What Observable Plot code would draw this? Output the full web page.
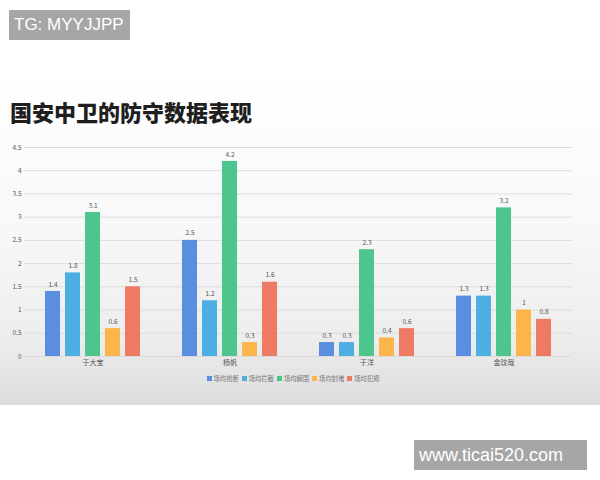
<!DOCTYPE html>
<html>
<head>
<meta charset="utf-8">
<script src="https://cdn.jsdelivr.net/npm/d3@7"></script>
<script src="https://cdn.jsdelivr.net/npm/@observablehq/plot@0.6"></script>
<style>
  html, body { margin: 0; padding: 0; background: #fff; }
  body { width: 600px; height: 480px; position: relative; overflow: hidden; font-family: "Noto Sans CJK SC", "Noto Sans", sans-serif; }
  #panel { position: absolute; left: 0; top: 75px; width: 600px; height: 330px;
    background: linear-gradient(to bottom, #ffffff 0%, #f8f8f8 45%, #ededed 80%, #dcdcdc 100%); }
  .wm { position: absolute; background: #a6a6a6; color: #fff; font-family: "Liberation Sans", Arial, sans-serif; }
  #wm1 { left: 9px; top: 10px; width: 121px; height: 30px; font-size: 17px; line-height: 30px; padding-left: 5px; box-sizing: border-box; }
  #wm2 { left: 414px; top: 440px; width: 173px; height: 30px; font-size: 18px; line-height: 30px; padding-left: 5px; box-sizing: border-box; }
  #title { position: absolute; left: 10px; top: 95px; font-size: 22px; font-weight: 900; color: #1e1e1e; white-space: nowrap; }
  #chart { position: absolute; left: 0; top: 140px; }
  #legend { position: absolute; left: 0; top: 374px; width: 586px; display: flex; justify-content: center; gap: 3px; font-size: 6.3px; color: #777; }
  #legend .item { display: flex; align-items: center; gap: 2px; }
  #legend .sw { width: 5px; height: 5px; display: inline-block; }
</style>
</head>
<body>
<div id="panel"></div>
<div id="wm1" class="wm">TG: MYYJJPP</div>
<div id="title">国安中卫的防守数据表现</div>
<div id="chart"></div>
<div id="legend"></div>
<div id="wm2" class="wm">www.ticai520.com</div>
<script>
const players = ["于大宝", "杨帆", "于洋", "金玟哉"];
const metrics = ["场均抢断", "场均拦截", "场均解围", "场均封堵", "场均犯规"];
const tackles = [1.4, 2.5, 0.3, 1.3];
const interceptions = [1.8, 1.2, 0.3, 1.3];
const clearances = [3.1, 4.2, 2.3, 3.2];
const blocks = [0.6, 0.3, 0.4, 1];
const fouls = [1.5, 1.6, 0.6, 0.8];
const yTicks = [0, 0.5, 1, 1.5, 2, 2.5, 3, 3.5, 4, 4.5];
const colors = ["#5a8ee0", "#4daee3", "#4dc58c", "#fbb54a", "#ee7a64"];

const series = [tackles, interceptions, clearances, blocks, fouls];
const data = [];
players.forEach((p, i) => {
  metrics.forEach((m, j) => data.push({player: p, metric: m, value: series[j][i]}));
});

const chart = Plot.plot({
  width: 600,
  height: 235,
  marginLeft: 22,
  marginRight: 27,
  marginTop: 7,
  marginBottom: 19,
  style: {background: "transparent", fontFamily: "'Noto Sans CJK SC', sans-serif"},
  fx: {domain: players, padding: 0, axis: "bottom", tickSize: 0, tickPadding: 4, label: null, fontSize: 7},
  x: {domain: metrics, paddingInner: 0.24, paddingOuter: 0.9, axis: null},
  y: {domain: [0, 4.5], ticks: yTicks, tickSize: 0, tickPadding: 3, label: null, tickFormat: d => String(d), grid: false},
  color: {domain: metrics, range: colors},
  marks: [
    Plot.ruleY(yTicks, {stroke: "#dcdcdc", strokeWidth: 1, facetAnchor: null}),
    Plot.barY(data, {fx: "player", x: "metric", y: "value", fill: "metric"}),
    Plot.text(data, {fx: "player", x: "metric", y: "value", text: d => String(d.value), dy: -7, fontSize: 6.5, fill: "#555"})
  ]
});
chart.querySelectorAll('g[aria-label="y-axis tick label"] text, g[aria-label="fx-axis tick label"] text').forEach(t => {
  t.setAttribute("fill", "#555");
});
chart.querySelectorAll('g[aria-label="y-axis tick label"]').forEach(g => g.setAttribute("font-size", "6.5"));
chart.querySelectorAll('g[aria-label="fx-axis tick label"]').forEach(g => g.setAttribute("font-size", "7"));
document.getElementById("chart").appendChild(chart);

const legend = document.getElementById("legend");
metrics.forEach((m, j) => {
  const item = document.createElement("div");
  item.className = "item";
  const sw = document.createElement("span");
  sw.className = "sw";
  sw.style.background = colors[j];
  const label = document.createElement("span");
  label.textContent = m;
  item.appendChild(sw);
  item.appendChild(label);
  legend.appendChild(item);
});
</script>
</body>
</html>
